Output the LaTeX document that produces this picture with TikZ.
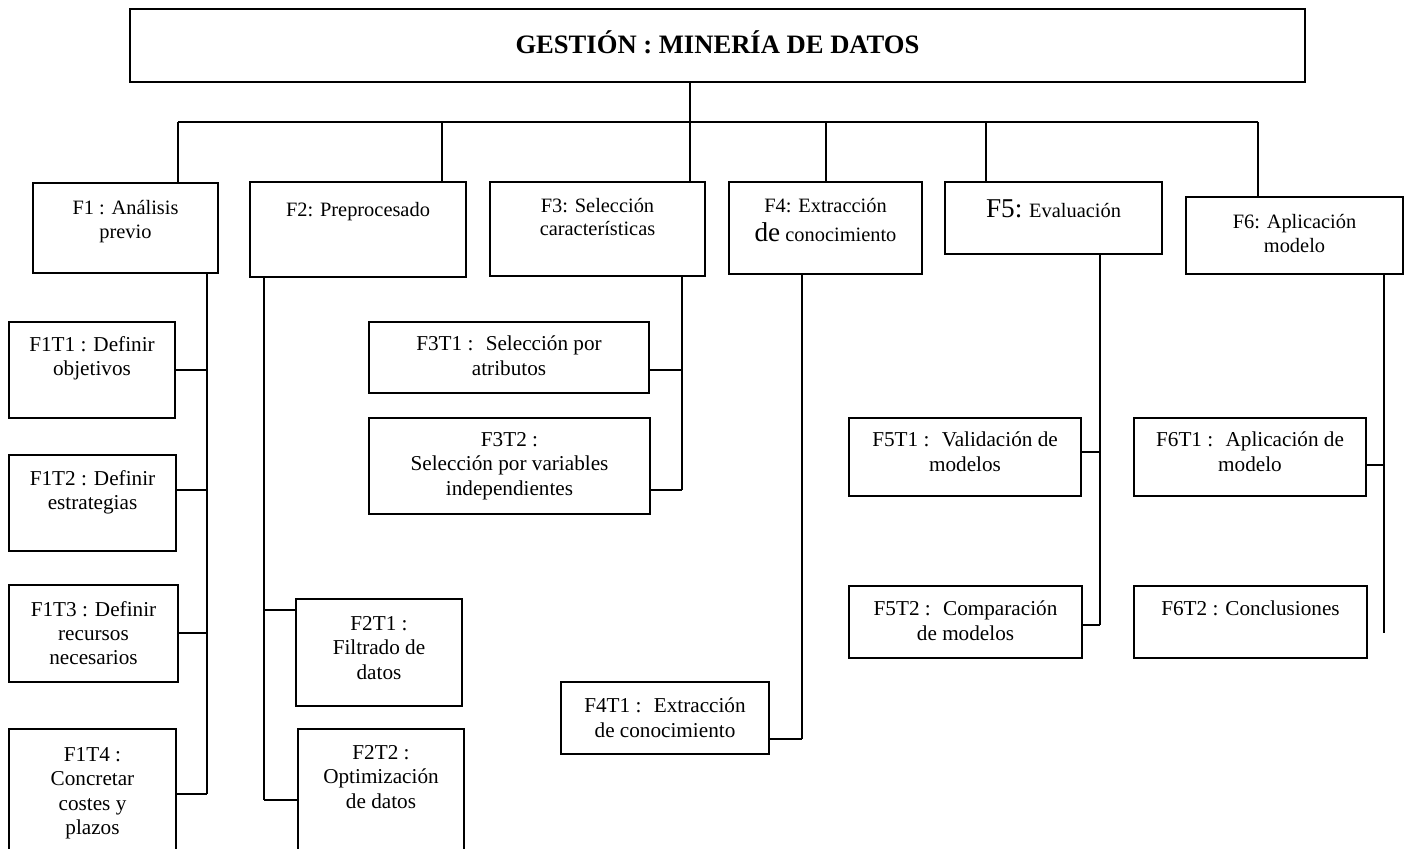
\documentclass[tikz,border=0pt]{standalone}
\usepackage{fontspec}
\setmainfont{Liberation Serif}
\usetikzlibrary{fit}
\newcommand{\titulo}{\fontsize{13.3}{15}\selectfont\bfseries}
\newcommand{\tfase}{\fontsize{10.2}{11.7}\selectfont}
\newcommand{\ttarea}{\fontsize{10.6}{12.2}\selectfont}
\newcommand{\grande}{\fontsize{13.6}{11.7}\selectfont}

\begin{document}
\begin{tikzpicture}[x=0.5pt,y=-0.5pt,
  caja/.style={draw,line width=0.8pt,inner sep=0pt},
  txfase/.style={anchor=north,align=center,inner sep=0pt,font=\tfase,yshift=-#1},
  txfase/.default=8.3pt,
  txtarea/.style={anchor=north,align=center,inner sep=0pt,font=\ttarea,yshift=-#1},
  txtarea/.default=7.3pt,
  con/.style={line width=0.8pt}]
\useasboundingbox (0,0) rectangle (1406,849);
\clip (0,0) rectangle (1406,849);
% cabecera
\node[caja,fit={(130,9) (1305,82)},label={[txfase=11pt,font=\titulo]north:{GESTIÓN : MINERÍA DE DATOS}}] (gestion) {};
% fases
\node[caja,fit={(33,183) (218,273)},label={[txfase=9pt]north:{F1 : Análisis\\previo}}] (f1) {};
\node[caja,fit={(250,182) (466,277)},label={[txfase=10.3pt]north:{F2: Preprocesado}}] (f2) {};
\node[caja,fit={(490,182) (705,276)},label={[txfase]north:{F3: Selección\\características}}] (f3) {};
\node[caja,fit={(729,182) (922,274)},label={[txfase]north:{F4: Extracción\\[3pt]{\grande de} conocimiento}}] (f4) {};
\node[caja,fit={(945,182) (1162,254)},label={[txfase=9pt]north:{{\grande F5:} Evaluación}}] (f5) {};
\node[caja,fit={(1186,197) (1403,274)},label={[txfase=9pt]north:{F6: Aplicación\\modelo}}] (f6) {};
% tareas
\node[caja,fit={(9,322) (175,418)},label={[txtarea]north:{F1T1 : Definir\\objetivos}}] (f1t1) {};
\node[caja,fit={(9,455) (176,551)},label={[txtarea=8pt]north:{F1T2 : Definir\\estrategias}}] (f1t2) {};
\node[caja,fit={(9,585) (178,682)},label={[txtarea=8.3pt]north:{F1T3 : Definir\\recursos\\necesarios}}] (f1t3) {};
\node[caja,fit={(9,729) (176,859)},label={[txtarea=9.3pt]north:{F1T4 :\\Concretar\\costes y\\plazos}}] (f1t4) {};
\node[caja,fit={(296,599) (462,706)},label={[txtarea=8.8pt]north:{F2T1 :\\Filtrado de\\datos}}] (f2t1) {};
\node[caja,fit={(298,729) (464,871)},label={[txtarea=8.3pt]north:{F2T2 :\\Optimización\\de datos}}] (f2t2) {};
\node[caja,fit={(369,322) (649,393)},label={[txtarea]north:{F3T1 :~ Selección por\\atributos}}] (f3t1) {};
\node[caja,fit={(369,418) (650,514)},label={[txtarea]north:{F3T2 :\\Selección por variables\\independientes}}] (f3t2) {};
\node[caja,fit={(561,682) (769,754)},label={[txtarea=8.3pt]north:{F4T1 :~ Extracción\\de conocimiento}}] (f4t1) {};
\node[caja,fit={(849,418) (1081,496)},label={[txtarea]north:{F5T1 :~ Validación de\\modelos}}] (f5t1) {};
\node[caja,fit={(849,586) (1082,658)},label={[txtarea=7.8pt]north:{F5T2 :~ Comparación\\de modelos}}] (f5t2) {};
\node[caja,fit={(1134,418) (1366,496)},label={[txtarea]north:{F6T1 :~ Aplicación de\\modelo}}] (f6t1) {};
\node[caja,fit={(1134,586) (1367,658)},label={[txtarea=7.8pt]north:{F6T2 : Conclusiones}}] (f6t2) {};
% bus superior
\coordinate (b1) at (178,122);
\coordinate (b2) at (442,122);
\coordinate (b3) at (690,122);
\coordinate (b4) at (826,122);
\coordinate (b5) at (986,122);
\coordinate (b6) at (1258,122);
\draw[con] (gestion.south -| b3) -- (b3);
\draw[con] (b1) -- (b6);
\foreach \i in {1,...,6}
  \draw[con] (b\i) -- (b\i |- f\i.north);
% ejes verticales de cada fase
\coordinate (e1) at (207,794);
\coordinate (e2) at (264,800);
\coordinate (e3) at (682,490);
\coordinate (e4) at (802,739);
\coordinate (e5) at (1100,625);
\coordinate (e6) at (1384,633);
\foreach \i in {1,...,6}
  \draw[con] (e\i |- f\i.south) -- (e\i);
% ramas
\draw[con] (f1t1.east) -| (e1);
\draw[con] ([yshift=6.5pt]f1t2.east) -| (e1);
\draw[con] ([yshift=0.25pt]f1t3.east) -| (e1);
\draw[con] (f1t4.east) -| (e1);
\draw[con] ([yshift=21.25pt]f2t1.west) -| (e2);
\draw[con] (f2t2.west) -| (e2);
\draw[con] ([yshift=-6.25pt]f3t1.east) -| (e3);
\draw[con] ([yshift=-12pt]f3t2.east) -| (e3);
\draw[con] ([yshift=-10.5pt]f4t1.east) -| (e4);
\draw[con] ([yshift=2.5pt]f5t1.east) -| (e5);
\draw[con] ([yshift=-1.5pt]f5t2.east) -| (e5);
\draw[con] ([yshift=-4pt]f6t1.east) -| (e6);
\end{tikzpicture}
\end{document}
